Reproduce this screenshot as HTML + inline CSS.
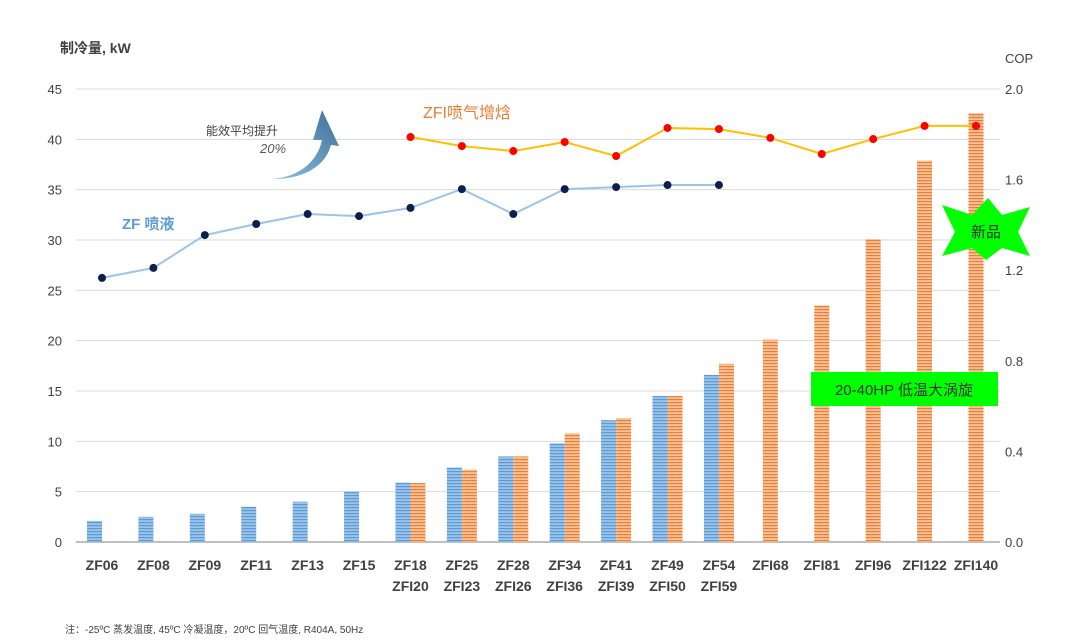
<!DOCTYPE html>
<html><head><meta charset="utf-8"><style>
html,body{margin:0;padding:0;background:#fff;}
svg{display:block;font-family:"Liberation Sans","Noto Sans CJK SC",sans-serif;}
</style></head><body>
<svg id="chart" width="1080" height="642" viewBox="0 0 1080 642">
<defs>
<pattern id="pb" width="4" height="3" patternUnits="userSpaceOnUse"><rect width="4" height="3" fill="#9cc3e8"/><rect width="4" height="1.2" fill="#5b9bd5"/></pattern>
<pattern id="po" width="4" height="3" patternUnits="userSpaceOnUse"><rect width="4" height="3" fill="#f7c39c"/><rect width="4" height="1.2" fill="#ed7d31"/></pattern>
<linearGradient id="ag" x1="0" y1="1" x2="1" y2="0"><stop offset="0" stop-color="#8cc4e4"/><stop offset="1" stop-color="#3f6f98"/></linearGradient>
</defs>
<g id="grid"></g><g id="bars"></g><g id="lines"></g><g id="labels"></g>
<text x="60" y="53" font-size="14" font-weight="bold" fill="#404040">制冷量, kW</text>
<text x="1005" y="63" font-size="13" fill="#404040">COP</text>
<text x="122" y="229" font-size="15" font-weight="bold" fill="#5b9bd5">ZF 喷液</text>
<text x="423" y="118" font-size="16" fill="#ed7d31">ZFI喷气增焓</text>
<text x="206" y="135" font-size="12" fill="#404040">能效平均提升</text>
<text x="260" y="153" font-size="13" fill="#595959" font-style="italic">20%</text>
<path d="M270,179 C300,178 318,160 322,140 L313,140 L322,110 L339,146 L331,145 C325,168 300,180 270,179 Z" fill="url(#ag)"/>
<polygon points="942,205 972,215 988,198 1002,215 1030,207 1018,232 1030,256 1002,248 986,260 972,248 942,256 955,232" fill="#00ff00"/>
<text x="986" y="237" font-size="15" fill="#333" text-anchor="middle">新品</text>
<rect x="811" y="372" width="187" height="34" fill="#00ff00"/>
<text x="904" y="395" font-size="15" fill="#333" text-anchor="middle">20-40HP 低温大涡旋</text>
<text x="65" y="633" font-size="10" fill="#404040">注：-25ºC 蒸发温度, 45ºC 冷凝温度，20ºC 回气温度, R404A, 50Hz</text>
</svg>
<script>
const categories1=["ZF06","ZF08","ZF09","ZF11","ZF13","ZF15","ZF18","ZF25","ZF28","ZF34","ZF41","ZF49","ZF54","ZFI68","ZFI81","ZFI96","ZFI122","ZFI140"];
const categories2=["","","","","","","ZFI20","ZFI23","ZFI26","ZFI36","ZFI39","ZFI50","ZFI59","","","","",""];
const zfCapacity=[2.1,2.5,2.8,3.5,4.0,5.0,5.9,7.4,8.5,9.8,12.1,14.5,16.6,null,null,null,null,null];
const zfiCapacity=[null,null,null,null,null,null,5.85,7.2,8.5,10.8,12.3,14.5,17.7,20.1,23.5,30.1,37.9,42.6];
const zfCop=[1.166,1.21,1.355,1.404,1.448,1.439,1.475,1.558,1.448,1.558,1.567,1.576,1.576,null,null,null,null,null];
const zfiCop=[null,null,null,null,null,null,1.788,1.748,1.726,1.766,1.704,1.828,1.823,1.784,1.713,1.779,1.837,1.837];
const leftTicks=[0,5,10,15,20,25,30,35,40,45];
const rightTicks=["0.0","0.4","0.8","1.2","1.6","2.0"];
const NS="http://www.w3.org/2000/svg";
const y0=542,ytop=89;
const yL=v=>y0-v/45*(y0-ytop);
const yR=v=>y0-v/2*(y0-ytop);
const xC=i=>102+i*(976-102)/17;
function mk(tag,attrs,parent,txt){const e=document.createElementNS(NS,tag);for(const k in attrs)e.setAttribute(k,attrs[k]);if(txt!==undefined)e.textContent=txt;document.getElementById(parent).appendChild(e);return e;}
leftTicks.forEach(t=>{
 const l=mk("line",{x1:76,x2:1000,y1:yL(t),y2:yL(t),stroke:t===0?"#bfbfbf":"#d9d9d9","stroke-width":t===0?2:1},"grid");
 
 
 const tx=mk("text",{x:62,y:yL(t)+5,"font-size":13,fill:"#404040","text-anchor":"end"},"grid",String(t));
 
 
});
rightTicks.forEach(t=>{
 const tx=mk("text",{x:1005,y:yR(parseFloat(t))+5,"font-size":13,fill:"#404040"},"grid",t);
 
 
});
categories1.forEach((c,i)=>{
 const cx=xC(i);
 if(zfCapacity[i]!=null){const r=mk("rect",{x:cx-15,y:yL(zfCapacity[i]),width:15,height:y0-yL(zfCapacity[i]),fill:"url(#pb)"},"bars");
  
  }
 if(zfiCapacity[i]!=null){const ox=zfCapacity[i]!=null?cx:cx-7.5;const r=mk("rect",{x:ox,y:yL(zfiCapacity[i]),width:15,height:y0-yL(zfiCapacity[i]),fill:"url(#po)"},"bars");
  
  }
 const t1=mk("text",{x:cx,y:570,"font-size":14,"font-weight":"bold",fill:"#404040","text-anchor":"middle"},"labels",c);
 
 
 if(categories2[i]){const t2=mk("text",{x:cx,y:591,"font-size":14,"font-weight":"bold",fill:"#404040","text-anchor":"middle"},"labels",categories2[i]);
  
  }
});
function line(vals,color,dot,name){
 const pts=[];vals.forEach((v,i)=>{if(v!=null)pts.push([xC(i),yR(v)]);});
 const p=mk("polyline",{points:pts.map(p=>p.join(",")).join(" "),fill:"none",stroke:color,"stroke-width":2},"lines");
 
 
 pts.forEach(q=>{const c=mk("circle",{cx:q[0],cy:q[1],r:4,fill:dot},"lines");
  
  });
}
line(zfCop,"#9dc3e6","#0d1f4f","zf-cop");
line(zfiCop,"#ffc000","#ff0000","zfi-cop");
</script>
</body></html>
